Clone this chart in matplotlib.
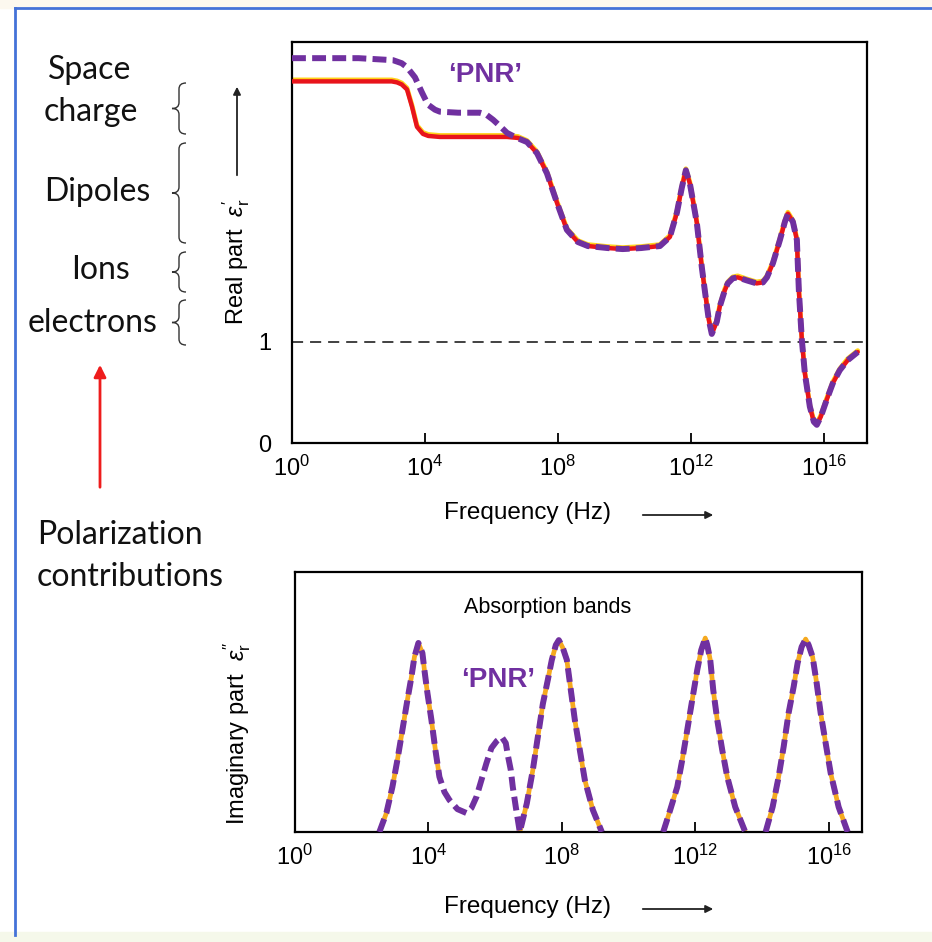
import matplotlib
matplotlib.use("Agg")
import matplotlib.pyplot as plt
import matplotlib.transforms as mtransforms
from matplotlib.path import Path
from matplotlib.patches import PathPatch, FancyArrowPatch, Rectangle
from matplotlib.lines import Line2D
import numpy as np

plt.rcParams['font.family'] = ['Liberation Sans', 'DejaVu Sans']
plt.rcParams['mathtext.fontset'] = 'custom'
plt.rcParams['mathtext.rm'] = 'Liberation Sans'
plt.rcParams['mathtext.it'] = 'Liberation Sans:italic'
plt.rcParams['lines.scale_dashes'] = False

# ---- real part (log10 of frequency, eps') ----
real_dec = [0, 1, 2, 3.0, 3.16, 3.3, 3.46, 3.61, 3.76, 3.94, 4.1, 4.45, 5.5, 6.47, 6.8,
            7.07, 7.37, 7.67, 7.97, 8.27, 8.6, 8.9, 9.5, 9.95, 10.5, 11.07, 11.37, 11.58,
            11.73, 11.85, 11.97, 12.18, 12.33, 12.42, 12.54, 12.63, 12.78, 12.87, 13.02,
            13.11, 13.26, 13.41, 13.68, 13.98, 14.17, 14.29, 14.47, 14.68, 14.83, 14.92,
            15.07, 15.19, 15.25, 15.34, 15.43, 15.58, 15.7, 15.79, 15.91, 16.09, 16.27,
            16.48, 16.72, 17.02]
real_val = [3.58, 3.58, 3.58, 3.58, 3.57, 3.55, 3.50, 3.33, 3.13, 3.06, 3.04, 3.03, 3.03, 3.03, 3.02,
            2.98, 2.87, 2.67, 2.38, 2.11, 1.99, 1.95, 1.93, 1.92, 1.93, 1.95, 2.04, 2.28,
            2.53, 2.70, 2.57, 2.18, 1.74, 1.51, 1.22, 1.08, 1.20, 1.35, 1.51,
            1.58, 1.63, 1.64, 1.61, 1.58, 1.59, 1.64, 1.78, 2.01, 2.19, 2.27,
            2.19, 2.01, 1.51, 1.02, 0.69, 0.36, 0.21, 0.18, 0.26, 0.43, 0.59,
            0.72, 0.82, 0.90]

# 'PNR' branch of the real part, joins the normal curve above 10^7
pnr_real_dec = [0, 1, 2, 3.04, 3.3, 3.46, 3.70, 3.91, 4.09, 4.3, 4.45, 5.0, 5.65, 5.85,
                6.05, 6.25, 6.47, 6.77]
pnr_real_val = [3.81, 3.81, 3.81, 3.79, 3.76, 3.72, 3.62, 3.47, 3.35, 3.30, 3.28, 3.27, 3.27, 3.25,
                3.20, 3.14, 3.07, 3.02]

# ---- imaginary part (absorption bands) ----
band1_dec = [2.53, 2.74, 2.92, 3.07, 3.22, 3.37, 3.49, 3.58, 3.70, 3.82, 3.88, 3.97, 4.09, 4.21, 4.33]
band1_val = [0.0, 0.073, 0.173, 0.277, 0.392, 0.508, 0.596, 0.673, 0.727, 0.688, 0.623, 0.535, 0.431, 0.315, 0.212]
pnr_band_dec = [4.33, 4.48, 4.63, 4.87, 5.14, 5.29, 5.44, 5.59, 5.74, 5.89, 6.05, 6.20, 6.32,
                6.38, 6.47, 6.53, 6.62, 6.74]
pnr_band_val = [0.212, 0.154, 0.123, 0.088, 0.073, 0.092, 0.135, 0.200, 0.265, 0.323, 0.350, 0.365, 0.342,
                0.296, 0.238, 0.173, 0.096, 0.0]
band2_dec = [6.74, 6.95, 7.13, 7.28, 7.43, 7.58, 7.70, 7.82, 7.91, 8.03, 8.15, 8.27, 8.39, 8.54, 8.69, 8.93, 9.20]
band2_val = [0.0, 0.11, 0.238, 0.365, 0.492, 0.585, 0.662, 0.719, 0.738, 0.708, 0.662, 0.546, 0.431, 0.315, 0.2, 0.085, 0.0]
band3_dec = [11.04, 11.25, 11.46, 11.61, 11.76, 11.91, 12.06, 12.18, 12.30, 12.36, 12.45, 12.54, 12.66, 12.81, 12.96, 13.2, 13.50]
band3_val = [0.0, 0.085, 0.173, 0.277, 0.392, 0.508, 0.623, 0.70, 0.746, 0.719, 0.662, 0.546, 0.431, 0.315, 0.212, 0.096, 0.0]
band4_dec = [14.11, 14.32, 14.50, 14.65, 14.80, 14.95, 15.07, 15.19, 15.31, 15.40, 15.52, 15.64, 15.76, 15.91, 16.06, 16.30, 16.57]
band4_val = [0.0, 0.096, 0.212, 0.327, 0.458, 0.558, 0.65, 0.712, 0.742, 0.719, 0.673, 0.573, 0.458, 0.342, 0.227, 0.096, 0.0]

tick_dec = [0, 4, 8, 12, 16]

PURPLE = '#7030a0'
RED = '#e8141b'
YELLOW = '#ffd21a'
ORANGE = '#f5a91f'
DASH = (0, (10, 4.5))

W, H = 932, 942
fig = plt.figure(figsize=(W / 100, H / 100), dpi=100)


def fx(px):
    return px / W


def fy(py):
    return 1 - py / H


def hz(decs):
    return [10.0 ** d for d in decs]


# page background and blue frame
fig.patches.append(Rectangle((0, fy(8)), 1, 1 - fy(8), transform=fig.transFigure,
                             color='#fcf8ef', zorder=0))
fig.patches.append(Rectangle((0, 0), 1, fy(932), transform=fig.transFigure,
                             color='#f5f8ea', zorder=0))
fig.add_artist(Line2D([fx(15), 1], [fy(8), fy(8)], transform=fig.transFigure, color='#4472d8', lw=2))
fig.add_artist(Line2D([fx(15), fx(15)], [fy(8), fy(935)], transform=fig.transFigure, color='#4472d8', lw=2))


def style_axis(ax, xmax):
    ax.set_xscale('log')
    ax.set_xlim(1, 10 ** xmax)
    ax.set_xticks(hz(tick_dec))
    ax.set_xticklabels(['10$^{%d}$' % d for d in tick_dec])
    ax.minorticks_off()
    ax.tick_params(axis='x', direction='in', length=7, width=1.3, labelsize=17, pad=9)
    for s in ax.spines.values():
        s.set_linewidth(1.6)


# ---------- top panel ----------
ax1 = fig.add_axes([fx(292), fy(443), fx(867) - fx(292), fy(42) - fy(443)])
style_axis(ax1, 17.3)
ax1.set_ylim(0, 3.97)
ax1.set_yticks([0, 1])
ax1.tick_params(axis='y', length=0, labelsize=17, pad=15)
ax1.axhline(1, color='#333333', lw=1.3, ls=(0, (8, 5)), zorder=1)

shift_up = mtransforms.offset_copy(ax1.transData, fig=fig, x=0, y=1.5, units='dots')
ax1.plot(hz(real_dec), real_val, color=YELLOW, lw=3.4, transform=shift_up,
         solid_capstyle='round', zorder=2)
ax1.plot(hz(real_dec), real_val, color=RED, lw=3.2, solid_capstyle='round', zorder=3)
pnr_curve_dec = pnr_real_dec + [d for d in real_dec if d > 6.9]
pnr_curve_val = pnr_real_val + [v for d, v in zip(real_dec, real_val) if d > 6.9]
ax1.plot(hz(pnr_curve_dec), pnr_curve_val, color=PURPLE, lw=4.3, ls=DASH, zorder=4)
ax1.text(10 ** 5.8, 3.64, '\u2018PNR\u2019', color=PURPLE, fontsize=20, fontweight='bold',
         ha='center', va='center')

# ---------- bottom panel ----------
ax2 = fig.add_axes([fx(295), fy(832), fx(862) - fx(295), fy(572) - fy(832)])
style_axis(ax2, 17.0)
ax2.set_ylim(0, 1)
ax2.set_yticks([])
for bd, bv in [(band1_dec, band1_val), (band2_dec, band2_val), (band3_dec, band3_val),
               (band4_dec, band4_val)]:
    ax2.plot(hz(bd), bv, color=ORANGE, lw=3.4, zorder=2)
seg_dec = band1_dec + pnr_band_dec[1:] + band2_dec[1:]
seg_val = band1_val + pnr_band_val[1:] + band2_val[1:]
ax2.plot(hz(seg_dec), seg_val, color=PURPLE, lw=4.3, ls=DASH, zorder=3)
ax2.plot(hz(band3_dec), band3_val, color=PURPLE, lw=4.3, ls=DASH, zorder=3)
ax2.plot(hz(band4_dec), band4_val, color=PURPLE, lw=4.3, ls=DASH, zorder=3)
ax2.text(0.445, 0.865, 'Absorption bands', transform=ax2.transAxes, fontsize=15.5,
         ha='center', va='center')
ax2.text(10 ** 6.1, 0.585, '\u2018PNR\u2019', color=PURPLE, fontsize=20, fontweight='bold',
         ha='center', va='center')

# ---------- axis labels and arrows ----------
for y in (513, 907):
    fig.text(fx(527), fy(y), 'Frequency (Hz)', fontsize=17.5, ha='center', va='center')
    fig.add_artist(FancyArrowPatch((fx(640), fy(y + 2)), (fx(716), fy(y + 2)),
                                   transform=fig.transFigure, arrowstyle='-|>',
                                   mutation_scale=11, color='#222222', lw=1.3))

fig.text(fx(236), fy(262), r"Real part  $\varepsilon_{\mathrm{r}}'$", fontsize=17,
         rotation=90, ha='center', va='center')
fig.add_artist(FancyArrowPatch((fx(237), fy(178)), (fx(237), fy(84)),
                               transform=fig.transFigure, arrowstyle='-|>',
                               mutation_scale=11, color='#222222', lw=1.3))
fig.text(fx(237), fy(733), r"Imaginary part  $\varepsilon_{\mathrm{r}}''$", fontsize=17,
         rotation=90, ha='center', va='center')

# ---------- polarization contributions ----------
left_font = ['Lato', 'DejaVu Sans']
for txt, x, y in [('Space', 90, 70), ('charge', 91, 112), ('Dipoles', 97, 192),
                  ('Ions', 101, 270), ('electrons', 93, 323),
                  ('Polarization', 120, 535), ('contributions', 130, 577)]:
    fig.text(fx(x), fy(y), txt, fontsize=23, family=left_font, ha='center', va='center',
             color='#111111')


def brace(y_top, y_bot, x_tip=172, x_end=186, r=6):
    xm = (x_tip + x_end) / 2
    ym = (y_top + y_bot) / 2
    pts = [(x_end, y_top), (xm, y_top), (xm, y_top + r),
           (xm, ym - r), (xm, ym), (x_tip, ym),
           (xm, ym), (xm, ym + r),
           (xm, y_bot - r), (xm, y_bot), (x_end, y_bot)]
    codes = [Path.MOVETO, Path.CURVE3, Path.CURVE3,
             Path.LINETO, Path.CURVE3, Path.CURVE3,
             Path.CURVE3, Path.CURVE3,
             Path.LINETO, Path.CURVE3, Path.CURVE3]
    path = Path([(fx(a), fy(b)) for a, b in pts], codes)
    fig.patches.append(PathPatch(path, transform=fig.transFigure, fill=False,
                                 ec='#333333', lw=1.0))


brace(83, 134)
brace(143, 243)
brace(252, 292)
brace(300, 345)

fig.add_artist(FancyArrowPatch((fx(100), fy(490)), (fx(100), fy(362)),
                               transform=fig.transFigure, arrowstyle='-|>',
                               mutation_scale=18, color='#ee1c1c', lw=2))

fig.savefig('out.png', dpi=100)
